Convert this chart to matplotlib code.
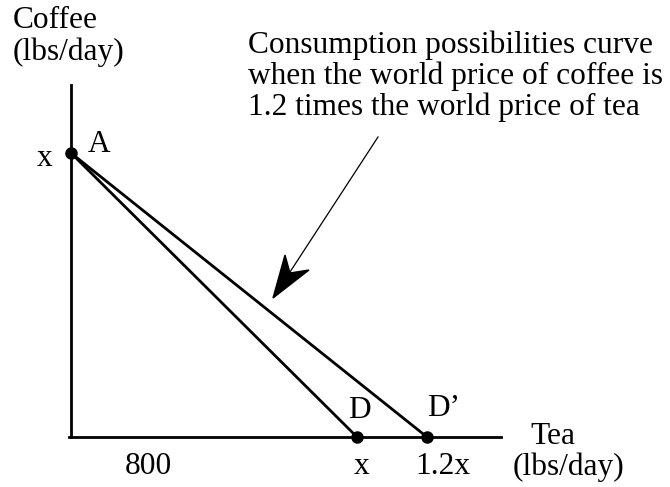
import matplotlib.pyplot as plt
from matplotlib.patches import Polygon

plt.rcParams["font.family"] = ["Liberation Serif", "DejaVu Serif"]

# geometry in picture units (pixels, y down)
origin = (71, 437)
y_top = 85
x_end = 501
pt_A = (71, 153)
pt_D = (357, 437)
pt_Dp = (427, 437)

arrow_tail = (378, 137)
arrow_tip = (273, 298)

caption = [
    "Consumption possibilities curve",
    "when the world price of coffee is",
    "1.2 times the world price of tea",
]

FS = 22.6
LW = 2.0

fig = plt.figure(figsize=(6.7, 4.87), dpi=100)
ax = fig.add_axes([0, 0, 1, 1])
ax.set_xlim(0, 670)
ax.set_ylim(487, 0)
ax.axis("off")

# axes
ax.plot([origin[0], origin[0]], [y_top, origin[1]], color="black", lw=LW)
ax.plot([origin[0] - 2, x_end], [origin[1], origin[1]], color="black", lw=LW)

# budget lines
ax.plot([pt_A[0], pt_D[0]], [pt_A[1], pt_D[1]], color="black", lw=LW)
ax.plot([pt_A[0], pt_Dp[0]], [pt_A[1], pt_Dp[1]], color="black", lw=LW)

for p in (pt_A, pt_D, pt_Dp):
    ax.plot(*p, "o", color="black", markersize=8)

# arrow: thin shaft plus notched head
ax.plot([arrow_tail[0], 290], [arrow_tail[1], 272], color="black", lw=0.9)
head = Polygon([arrow_tip, (285, 255), (290, 273), (309, 270)],
               closed=True, color="black")
ax.add_patch(head)

# labels
ax.text(13, 20, "Coffee", fontsize=FS, va="center", ha="left")
ax.text(13, 52, "(lbs/day)", fontsize=FS, va="center", ha="left")
ax.text(45, 159, "x", fontsize=FS, va="center", ha="center")
ax.text(99, 145, "A", fontsize=FS, va="center", ha="center")
ax.text(359, 411, "D", fontsize=FS, va="center", ha="center")
ax.text(427, 409, "D\u2019", fontsize=FS, va="center", ha="left")
ax.text(148, 467, "800", fontsize=FS, va="center", ha="center")
ax.text(362, 467, "x", fontsize=FS, va="center", ha="center")
ax.text(415, 466, "1.2x", fontsize=FS, va="center", ha="left")
ax.text(530, 437, "Tea", fontsize=FS, va="center", ha="left")
ax.text(513, 467, "(lbs/day)", fontsize=FS, va="center", ha="left")

for i, line in enumerate(caption):
    ax.text(248, 53 + 31 * i, line, fontsize=FS, va="baseline", ha="left")

fig.savefig("out.png", dpi=100)
